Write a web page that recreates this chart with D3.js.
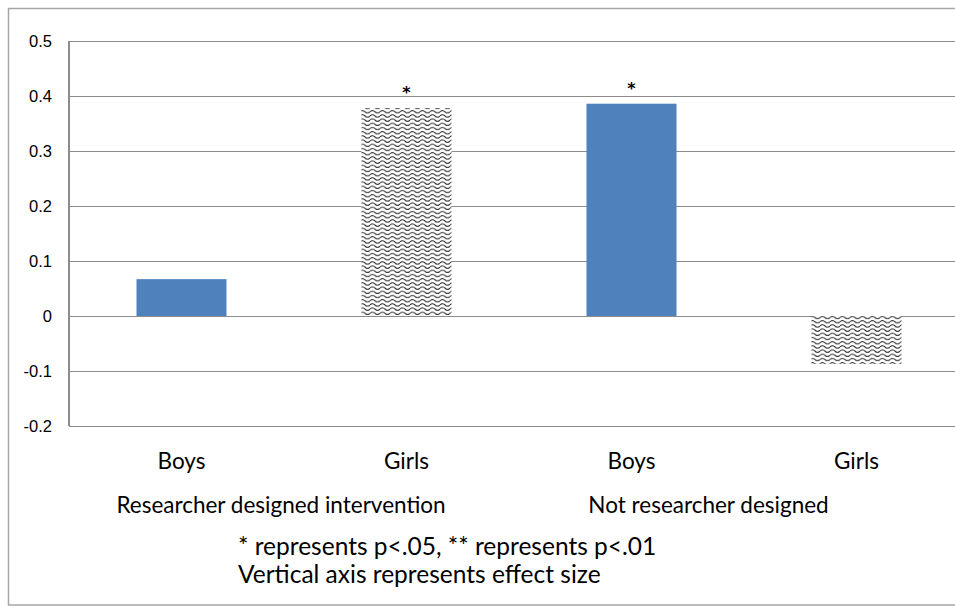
<!DOCTYPE html>
<html>
<head>
<meta charset="utf-8">
<script src="https://cdn.jsdelivr.net/npm/d3@7"></script>
<style>
  html, body { margin: 0; padding: 0; background: #fff; }
  svg { display: block; font-family: Lato, "Open Sans", sans-serif; }
</style>
</head>
<body>
<svg id="chart" width="955" height="607"></svg>
<script>
// Effect sizes by gender and intervention type
const categories = ["Boys", "Girls", "Boys", "Girls"];
const groups = ["Researcher designed intervention", "Not researcher designed"];
const values = [0.067, 0.378, 0.386, -0.087];
const significance = ["", "*", "*", ""];
const yTicks = [-0.2, -0.1, 0, 0.1, 0.2, 0.3, 0.4, 0.5];
const yTickLabels = ["-0.2", "-0.1", "0", "0.1", "0.2", "0.3", "0.4", "0.5"];
const notes = ["* represents p<.05, ** represents p<.01", "Vertical axis represents effect size"];

const svg = d3.select("#chart");

// wavy fill used for the girls' bars
const defs = svg.append("defs");
const pat = defs.append("pattern")
  .attr("id", "wave")
  .attr("patternUnits", "userSpaceOnUse")
  .attr("width", 10).attr("height", 4.2);
pat.append("rect").attr("width", 10).attr("height", 4.2).attr("fill", "#fff");
pat.append("path")
  .attr("d", "M0,2.6 Q2.5,0.2 5,2.6 T10,2.6")
  .attr("fill", "none").attr("stroke", "#333").attr("stroke-width", 1.1);

// outer frame
svg.append("rect")
  .attr("x", 8.5).attr("y", 8.5).attr("width", 980).attr("height", 596.5)
  .attr("fill", "none").attr("stroke", "#a6a6a6").attr("stroke-width", 1.5);

const x = d3.scaleBand()
  .domain(d3.range(categories.length))
  .range([69, 969])
  .paddingInner(0.6)
  .paddingOuter(0.3);

const y = d3.scaleLinear().domain([-0.2, 0.5]).range([426, 41]);

// gridlines and value axis
const yAxis = d3.axisLeft(y)
  .tickValues(yTicks)
  .tickFormat((d, i) => yTickLabels[i])
  .tickSize(-900)
  .tickPadding(17);

const gy = svg.append("g").attr("transform", "translate(69,0)").call(yAxis);
gy.select(".domain").remove();
gy.selectAll(".tick line").attr("stroke", "#8c8c8c").attr("stroke-width", 1.3)
  .attr("shape-rendering", "crispEdges");
gy.selectAll(".tick text").attr("font-size", 16.5).attr("fill", "#000");

svg.append("line")
  .attr("x1", 69).attr("x2", 69).attr("y1", y(0.5)).attr("y2", y(-0.2))
  .attr("stroke", "#8c8c8c").attr("stroke-width", 1.3).attr("shape-rendering", "crispEdges");

// bars
svg.append("g").selectAll("rect")
  .data(values)
  .join("rect")
  .attr("x", (d, i) => x(i))
  .attr("width", x.bandwidth())
  .attr("y", d => y(Math.max(0, d)))
  .attr("height", d => Math.abs(y(d) - y(0)))
  .attr("fill", (d, i) => categories[i] === "Boys" ? "#4f81bd" : "url(#wave)");

// significance markers
svg.append("g").selectAll("text")
  .data(values)
  .join("text")
  .attr("x", (d, i) => x(i) + x.bandwidth() / 2)
  .attr("y", d => y(d) - 10)
  .attr("text-anchor", "middle")
  .attr("font-family", "DejaVu Sans")
  .attr("font-size", 16)
  .attr("font-weight", "bold")
  .text((d, i) => significance[i]);

// category labels
svg.append("g").selectAll("text")
  .data(categories)
  .join("text")
  .attr("x", (d, i) => x(i) + x.bandwidth() / 2)
  .attr("y", 469)
  .attr("text-anchor", "middle")
  .attr("font-size", 22.5)
  .text(d => d);

// group labels under each pair of categories
svg.append("g").selectAll("text")
  .data(groups)
  .join("text")
  .attr("x", (d, i) => (x(2 * i) + x(2 * i + 1) + x.bandwidth()) / 2 - (i === 0 ? 13 : 35.5))
  .attr("y", 513)
  .attr("text-anchor", "middle")
  .attr("font-size", 22.5)
  .text(d => d);

// footnotes
svg.append("g").selectAll("text")
  .data(notes)
  .join("text")
  .attr("x", 238)
  .attr("y", (d, i) => 555 + i * 28)
  .attr("font-size", 24.5)
  .text(d => d);
</script>
</body>
</html>
